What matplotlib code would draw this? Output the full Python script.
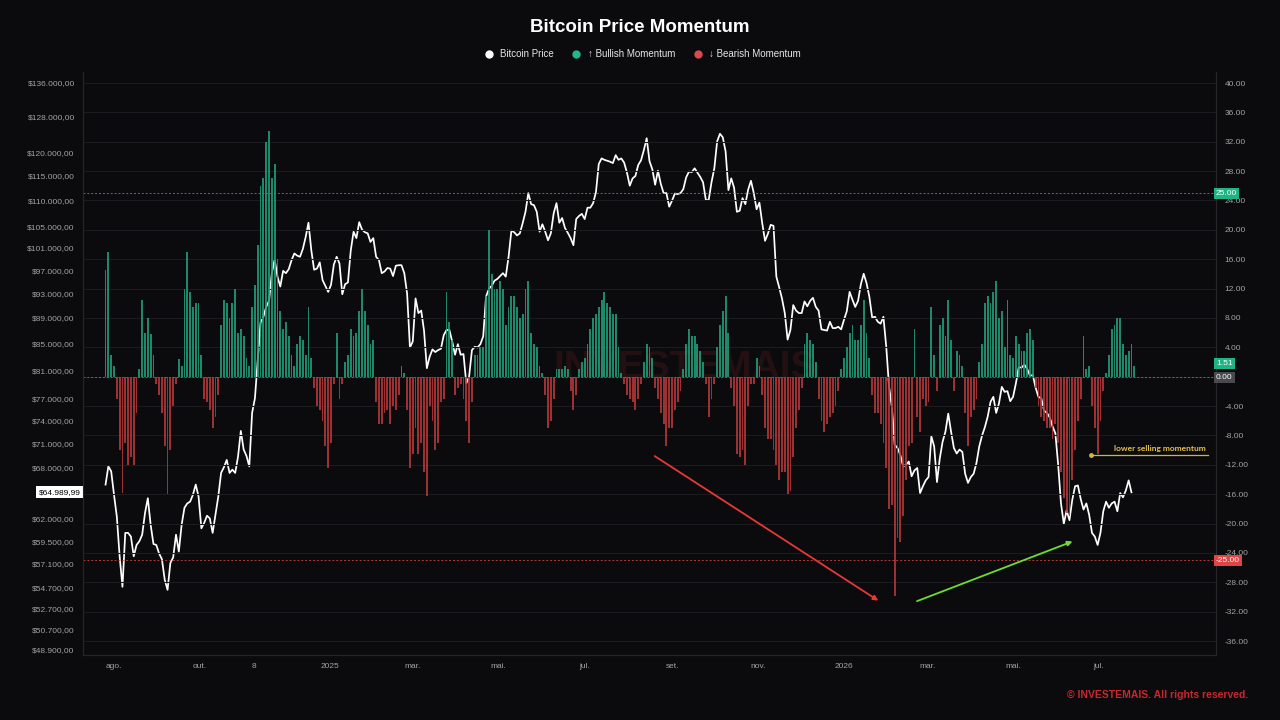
import pandas as pd
import matplotlib
matplotlib.use('Agg')
import matplotlib.pyplot as plt
from matplotlib.lines import Line2D
from matplotlib.ticker import FixedLocator, NullLocator, FuncFormatter
from matplotlib.transforms import blended_transform_factory

plt.rcParams['font.family'] = ['Liberation Sans', 'DejaVu Sans']

BG = '#0b0b0d'
GREEN = '#22a07a'
RED = '#b5383a'

# readings every 2 days, first one on 26 Jul 2024
start = '2024-07-26'

momentum = [
    14.5, 17, 3, 1.5, -3, -10, -15.8, -9, -12, -11, -12, -5,
    1, 10.5, 6, 8, 5.8, 3, -1, -2.5, -5, -9.5, -16, -10,
    -4, -1, 2.4, 1.5, 12, 17, 11.5, 9.5, 10, 10, 3, -3,
    -3.5, -4.5, -7, -5.5, -2.5, 7, 10.5, 10, 8, 10, 12, 6,
    6.5, 5.5, 2.5, 1.5, 9.5, 12.5, 18, 26, 27, 32, 33.5, 27,
    29, 16, 9, 6.5, 7.5, 5.5, 3, 1.5, 4.5, 5.5, 5, 3,
    9.5, 2.5, -1.5, -4, -4.5, -6, -9.5, -12.5, -9, -1, 6, -3,
    -1, 2, 3, 6.5, 5.5, 6, 9, 12, 9, 7, 4.5, 5,
    -3.5, -6.5, -6.5, -5, -4.5, -6.5, -4, -4.5, -2.5, 1.5, 0.5, -4.5,
    -12.5, -10.5, -7, -10.5, -9, -13, -16.2, -4, -6, -10, -9, -3.5,
    -3, 11.5, 7.5, 5, -2.5, -1.5, -1, -3, -6, -9, -3.5, 3,
    3, 4, 4, 11, 20, 14, 12, 12, 13, 12, 7, 9.5,
    11, 11, 9.5, 8, 8.5, 12, 13, 6, 4.5, 4, 1.5, 0.5,
    -2.5, -7, -6, -3, 1, 1, 1, 1.5, 1, -2, -4.5, -2.5,
    1, 2, 2.5, 4.5, 6.5, 8, 8.5, 9.5, 10.5, 11.5, 10, 9.5,
    8.5, 8.5, 4, 0.5, -1, -2.5, -3, -3.5, -4.5, -3, -1, 2,
    4.5, 4, 2.5, -1.5, -3, -5, -6.5, -9.5, -7, -7, -4.5, -3.5,
    -2, 1, 4.5, 6.5, 5.5, 5.5, 4.5, 3.5, 2, -1, -5.5, -3,
    -1, 4, 7, 9, 11, 6, -1.5, -4, -10.5, -11, -10, -12,
    -4, -1, -1, 2.5, 1.5, -2.5, -7, -8.5, -8.5, -10, -12, -14,
    -13, -13, -16, -15.5, -11, -7, -4.5, -1.5, 4.5, 6, 5, 4.5,
    2, -3, -6, -7.5, -6.5, -5.5, -5, -4, -2, 1, 2.5, 4,
    6, 7, 5, 5, 7, 10.5, 6, 2.5, -2.5, -5, -5, -6.5,
    -9, -12.5, -18, -17.5, -29.8, -22, -22.5, -19, -14, -9.5, -9, 6.5,
    -5.5, -7.5, -3, -4, -3.5, 9.5, 3, -2, 7, 8, 5.5, 10.5,
    5, -2, 3.5, 3, 1.5, -5, -9.5, -5.5, -4.5, -3, 2, 4.5,
    10, 11, 10, 11.5, 13, 8, 9, 4, 10.5, 3, 2.5, 5.5,
    4.5, 3.5, 3.5, 6, 6.5, 5, -1.5, -4, -5.5, -6, -7, -7,
    -8.5, -6.5, -9, -13, -16.5, -18.5, -19, -14, -10, -6, -3, 5.5,
    1, 1.5, -4, -7, -10.5, -6, -2, 0.5, 3, 6.5, 7, 8,
    8, 4.5, 3, 3.5, 4.5, 1.51,
]

price = [
    65900, 68100, 67500, 64700, 62200, 57900, 54800, 60400, 60400, 60000, 57900, 59100,
    59500, 60200, 62600, 64300, 61300, 59200, 59100, 58200, 57600, 55500, 54500, 57200,
    57800, 60200, 58400, 61300, 63200, 63700, 63900, 64700, 65900, 64500, 60900, 61500,
    62300, 62000, 60400, 62400, 64500, 67300, 68000, 68900, 67300, 67700, 67300, 69300,
    72600, 70200, 69400, 68100, 75000, 77000, 82500, 88300, 89200, 90800, 91800, 96500,
    98900, 95900, 94200, 96900, 96500, 97200, 98800, 100000, 99600, 99400, 100800, 103000,
    105700, 100600, 97100, 97300, 98400, 95300, 94300, 93300, 94500, 98000, 99400, 98200,
    92900, 94600, 94900, 100500, 104000, 102800, 105800, 104400, 103900, 103700, 102100, 102800,
    99400, 98800, 96500, 96800, 97400, 97300, 96000, 97800, 97900, 97900, 96500, 93000,
    84400, 85300, 92200, 89800, 90200, 87000, 81300, 83000, 84100, 83700, 84000, 84200,
    86300, 87100, 87100, 85300, 83300, 84900, 83300, 83400, 79100, 80100, 84000, 84500,
    84400, 84900, 86100, 92500, 93800, 94300, 95200, 95500, 96000, 96500, 95900, 99400,
    104200, 103900, 103300, 103700, 105600, 107800, 111500, 109300, 109100, 107800, 104000, 105400,
    104000, 102400, 103700, 107500, 109500, 105700, 106600, 104700, 103800, 102800, 101500, 106400,
    107000, 107400, 106400, 108600, 108600, 109500, 111700, 117500, 118700, 118400, 118200, 118000,
    117700, 119400, 118400, 118700, 117800, 115700, 113000, 114500, 115000, 117300, 118300, 120500,
    123100, 118100, 116400, 113200, 116100, 113400, 111500, 111500, 108800, 110000, 111400, 111300,
    111500, 112300, 114700, 115900, 115800, 116600, 115700, 114800, 113700, 110100, 110100, 113700,
    116600, 122400, 124100, 123300, 120200, 112100, 114500, 112600, 107800, 108000, 110500, 109300,
    112200, 114000, 111500, 108300, 109600, 105600, 102300, 103600, 105300, 105100, 95900, 94100,
    92200, 89800, 85600, 87100, 91100, 90200, 89800, 89800, 91700, 90900, 91800, 92300,
    90800, 90200, 87200, 87100, 87000, 88400, 87400, 87400, 87600, 87200, 88700, 90100,
    93300, 92000, 90800, 91800, 94600, 96400, 94800, 92500, 89100, 89200, 88400, 88100,
    89200, 84500, 78600, 75800, 70800, 70400, 69500, 68100, 68300, 68700, 66900, 67600,
    67900, 64900, 65700, 66400, 66800, 71900, 70600, 66200, 69100, 71200, 72500, 74900,
    72500, 70400, 69700, 70200, 69900, 67200, 66100, 66800, 67200, 68500, 70600, 72000,
    73100, 74500, 76500, 77200, 75000, 76300, 78600, 77900, 78000, 76600, 77200, 79100,
    81400, 81400, 81800, 81200, 80200, 80300, 78500, 77200, 77000, 75300, 75000, 74400,
    73200, 72300, 68300, 63700, 61400, 62900, 61800, 64100, 65700, 65800, 64200, 63000,
    63700, 62400, 60400, 60000, 59100, 60400, 62800, 63900, 63200, 63700, 63900, 62800,
    64900, 64400, 65200, 66400, 64989.99,
]

price_ticks = [136000, 128000, 120000, 115000, 110000, 105000, 101000, 97000,
               93000, 89000, 85000, 81000, 77000, 74000, 71000, 68000, 62000,
               59500, 57100, 54700, 52700, 50700, 48900]
mom_ticks = list(range(-36, 41, 4))

date_ticks = ['2024-08-01', '2024-10-01', '2024-11-08', '2025-01-01', '2025-03-01',
              '2025-05-01', '2025-07-01', '2025-09-01', '2025-11-01', '2026-01-01',
              '2026-03-01', '2026-05-01', '2026-07-01']
date_labels = ['ago.', 'out.', '8', '2025', 'mar.', 'mai.', 'jul.', 'set.', 'nov.',
               '2026', 'mar.', 'mai.', 'jul.']

mom_dates = pd.date_range(start, periods=len(momentum), freq='2D')
price_dates = pd.date_range(start, periods=len(price), freq='2D')
bar_colors = [GREEN if v >= 0 else RED for v in momentum]


def brl(v, pos=None):
    s = f'${v:,.2f}'
    return s.replace(',', 'X').replace('.', ',').replace('X', '.')


fig = plt.figure(figsize=(12.8, 7.2), dpi=100, facecolor=BG)
ax = fig.add_axes([83 / 1280, 65 / 720, 1133 / 1280, 583 / 720])
ax.set_facecolor(BG)
ax2 = ax.twinx()

# price on the left (log) axis
ax.plot(price_dates, price, color='white', lw=1.25, zorder=3)
ax.set_yscale('log')
ax.set_ylim(48457, 138726)
ax.yaxis.set_major_locator(FixedLocator(price_ticks))
ax.yaxis.set_minor_locator(NullLocator())
ax.yaxis.set_major_formatter(FuncFormatter(brl))

# momentum bars on the right axis, drawn over the price
ax2.bar(mom_dates, momentum, width=1.3, color=bar_colors, alpha=0.85, zorder=3)
ax2.set_ylim(-37.9, 41.5)
ax2.set_yticks(mom_ticks)
# the 0.00 level is shown by its own tag below
ax2.set_yticklabels(['' if v == 0 else f'{v:.2f}' for v in mom_ticks])
ax2.grid(axis='y', color='#1c1c20', lw=0.8)
ax2.set_axisbelow(True)

ax2.axhline(25, color='#1db584', ls=(0, (2, 2)), lw=0.7, alpha=0.8)
ax2.axhline(-25, color='#e04545', ls=(0, (2, 2)), lw=0.7, alpha=0.8)
ax2.axhline(0, color='#6a6a6a', ls=(0, (2, 2)), lw=0.7)

ax.set_xlim(pd.Timestamp('2024-07-10'), pd.Timestamp('2026-09-22'))
ax.set_xticks(pd.to_datetime(date_ticks))
ax.set_xticklabels(date_labels)
ax.xaxis.set_minor_locator(NullLocator())

for a in (ax, ax2):
    a.tick_params(axis='both', labelsize=6, colors='#a3a3a3', length=0, pad=6)
    for side, sp in a.spines.items():
        sp.set_color('#26262a')
        sp.set_linewidth(0.8)
    a.spines['top'].set_visible(False)
ax.tick_params(axis='x', pad=6)

# value tags on the axes
tr_r = blended_transform_factory(ax2.transAxes, ax2.transData)
for val, txt, fc in [(25, '25.00', '#1db584'), (1.75, '1.51', '#1db584'),
                     (-0.15, '0.00', '#4a4a4e'), (-25, '-25.00', '#e04545')]:
    ax2.text(1.0, val, txt, transform=tr_r, ha='left', va='center', fontsize=6,
             color='white', zorder=5, clip_on=False,
             bbox=dict(boxstyle='square,pad=0.25', fc=fc, ec='none'))
tr_l = blended_transform_factory(ax.transAxes, ax.transData)
ax.text(-0.002, price[-1], brl(price[-1]), transform=tr_l, ha='right', va='center',
        fontsize=6, color='black', clip_on=False,
        bbox=dict(boxstyle='square,pad=0.3', fc='white', ec='none'))

# watermark
ax.text(0.531, 0.492, 'INVESTEMAIS', transform=ax.transAxes, ha='center', va='center',
        fontsize=28, weight='bold', color='#3a1518', alpha=0.55, zorder=1)

# arrows
ax2.annotate('', xy=(pd.Timestamp('2026-01-27'), -30.7),
             xytext=(pd.Timestamp('2025-08-18'), -10.6),
             arrowprops=dict(arrowstyle='-|>', color='#e53935', lw=1.3, mutation_scale=7),
             zorder=6)
ax2.annotate('', xy=(pd.Timestamp('2026-06-14'), -22.3),
             xytext=(pd.Timestamp('2026-02-20'), -30.7),
             arrowprops=dict(arrowstyle='-|>', color='#6fdc2f', lw=1.3, mutation_scale=7),
             zorder=6)

# lower selling momentum note
note_x = [pd.Timestamp('2026-06-25'), pd.Timestamp('2026-09-16')]
ax2.plot(note_x, [-10.7, -10.7], color='#d4b43c', lw=0.9, zorder=6)
ax2.plot(note_x[0], -10.7, 'o', color='#d4b43c', ms=2.5, zorder=6)
ax2.text(pd.Timestamp('2026-08-13'), -10.2, 'lower selling momentum', ha='center',
         va='bottom', fontsize=6, weight='bold', color='#e8c14a', family='Lato', zorder=6)

# title, legend, footer
fig.text(0.5, 1 - 27 / 720, 'Bitcoin Price Momentum', ha='center', va='center',
         color='white', fontsize=13.5, weight='bold')
handles = [Line2D([0], [0], marker='o', ls='', ms=6, mfc=c, mec='none')
           for c in ('white', '#1fb88a', '#e0474c')]
fig.legend(handles, ['Bitcoin Price', '↑ Bullish Momentum', '↓ Bearish Momentum'],
           loc='center', bbox_to_anchor=(0.5, 1 - 54 / 720), ncol=3, frameon=False,
           fontsize=7, labelcolor='#e6e6e6', handletextpad=0.2, columnspacing=1.3)
fig.text(1248 / 1280, 1 - 695 / 720, '© INVESTEMAIS. All rights reserved.', ha='right',
         va='center', color='#c8282d', fontsize=7.5, weight='bold')

fig.savefig('out.png', dpi=100, facecolor=BG)
